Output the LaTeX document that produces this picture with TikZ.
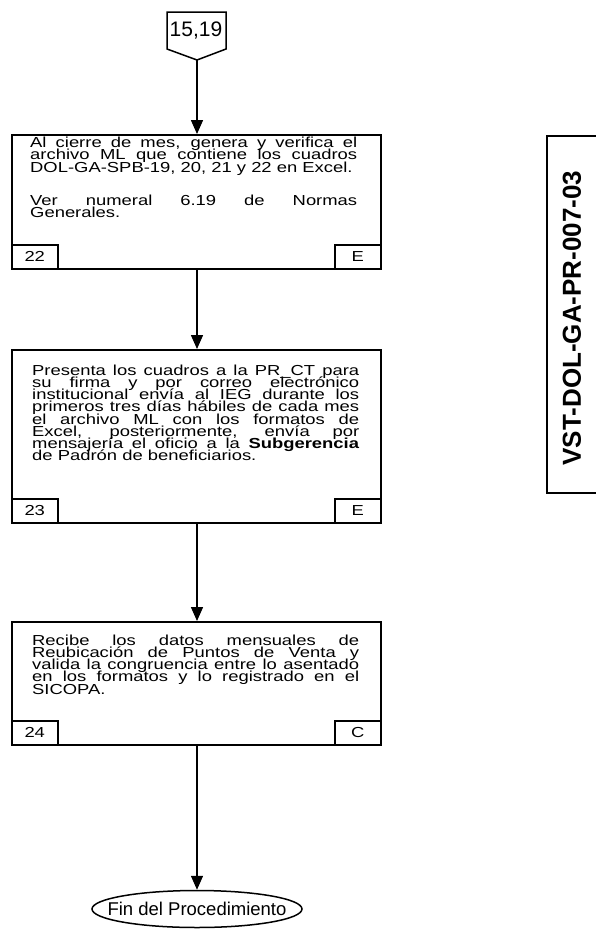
\documentclass[tikz,border=0pt]{standalone}
\usepackage{fontspec}
\setmainfont{Liberation Sans}
\newfontfamily\bodyfont[FakeStretch=1.27]{Liberation Sans}
\usetikzlibrary{shapes.geometric,arrows.meta}
% tight, fixed leading for the step descriptions
\newcommand{\tightbody}{\bodyfont\fontsize{14.5}{12.2}\selectfont\lineskiplimit=-100pt\lineskip=0pt}
\begin{document}
\begin{tikzpicture}[x=1pt,y=-1pt,
  flow/.style={line width=1.5pt,-{Triangle[length=14pt,width=12pt]}},
  frame/.style={draw,line width=1.5pt,inner sep=0pt},
  stepbox/.style={frame,anchor=north west,minimum width=369pt},
  tag/.style={frame,minimum width=46pt,minimum height=24pt,font=\bodyfont\fontsize{14.5}{14.5}\selectfont},
  body/.style={anchor=north west,text width=327pt,align=justify,inner sep=0pt,
    font=\tightbody}]
\useasboundingbox (0,0) rectangle (595,930);

% off-page connector
\draw[frame] (167,12) -- (226,12) -- (226,49) -- (197,60) -- (167,49) -- cycle;
\coordinate (c0) at (197,60);
\node[font=\fontsize{21}{21}\selectfont] (c0t) at (196,31) {15,19};

% step 22
\node[stepbox,minimum height=134pt] (b1) at (11,134) {};
\node[body] (t1) at (30,137) {Al cierre de mes, genera y verifica el\linebreak
archivo ML que contiene los cuadros\linebreak
DOL-GA-SPB-19, 20, 21 y 22 en Excel.\par\vspace{21pt}
Ver numeral 6.19 de Normas\linebreak
Generales.};
\node[tag,anchor=south west] (n1) at (b1.south west) {22};
\node[tag,anchor=south east] (r1) at (b1.south east) {E};

% step 23
\node[stepbox,minimum height=173pt] (b2) at (11,349) {};
\node[body] (t2) at (32,364.5) {Presenta los cuadros a la PR\_CT para\linebreak
su firma y por correo electrónico\linebreak
institucional envía al IEG durante los\linebreak
primeros tres días hábiles de cada mes\linebreak
el archivo ML con los formatos de\linebreak
Excel, posteriormente, envía por\linebreak
mensajería el oficio a la \textbf{Subgerencia}\linebreak
de Padrón de beneficiarios.};
\node[tag,anchor=south west] (n2) at (b2.south west) {23};
\node[tag,anchor=south east] (r2) at (b2.south east) {E};

% step 24
\node[stepbox,minimum height=123pt] (b3) at (11,621) {};
\node[body] (t3) at (32,634.5) {Recibe los datos mensuales de\linebreak
Reubicación de Puntos de Venta y\linebreak
valida la congruencia entre lo asentado\linebreak
en los formatos y lo registrado en el\linebreak
SICOPA.};
\node[tag,anchor=south west] (n3) at (b3.south west) {24};
\node[tag,anchor=south east] (r3) at (b3.south east) {C};

% terminator: fixed-size ellipse with its label laid over it
\node[draw,ellipse,line width=1.5pt,inner sep=0pt,minimum width=210pt,minimum height=37pt] (fin) at (197,909) {};
\node[font=\fontsize{18.5}{18.5}\selectfont,inner sep=0pt] (fintxt) at (fin.center) {Fin del Procedimiento};

% connectors
\draw[flow] (c0) -- (b1.north -| c0);
\draw[flow] (b1.south -| c0) -- (b2.north -| c0);
\draw[flow] (b2.south -| c0) -- (b3.north -| c0);
\draw[flow] (b3.south -| c0) -- (fin.north -| c0);

% document code
\draw[line width=1.2pt] (600,136) -- (547,136) -- (547,493) -- (600,493);
\node[rotate=90,font=\bfseries\fontsize{26}{26}\selectfont] (code) at (572,318) {VST-DOL-GA-PR-007-03};
\end{tikzpicture}
\end{document}
